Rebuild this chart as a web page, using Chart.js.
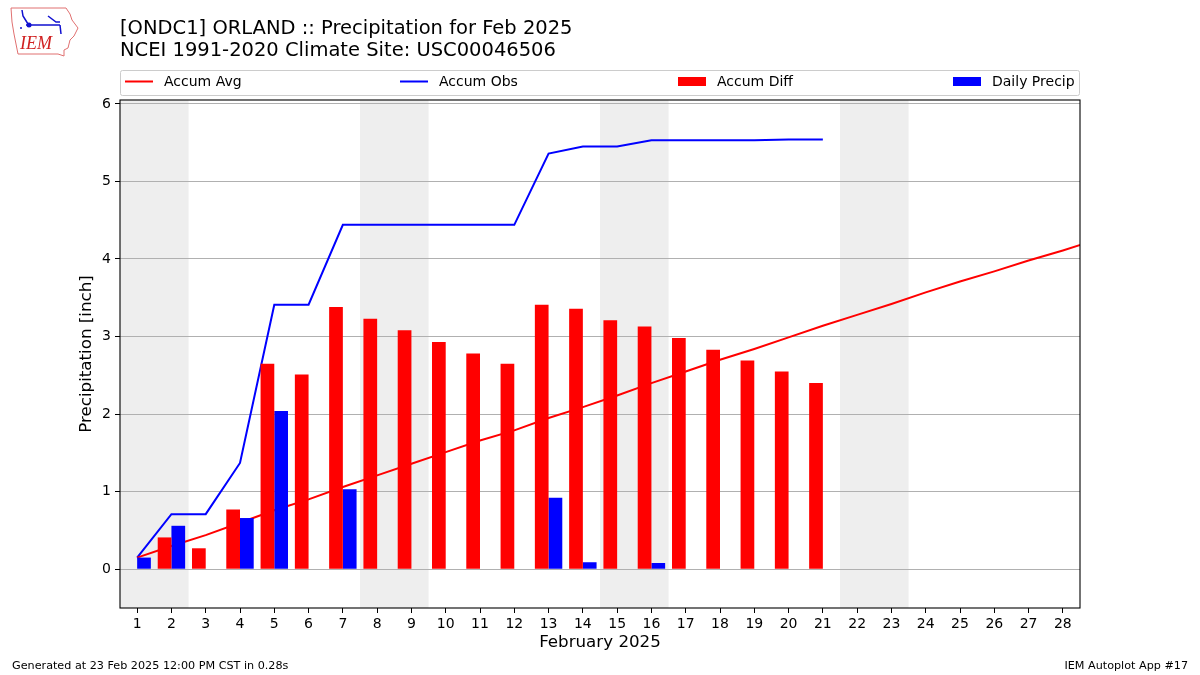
<!DOCTYPE html>
<html>
<head>
<meta charset="utf-8">
<script src="https://cdn.jsdelivr.net/npm/chart.js@4"></script>
<style>
  body { margin: 0; background: #fff; }
  #wrap { position: relative; width: 1200px; height: 675px; }
  #logo { position: absolute; left: 8px; top: 4px; }
</style>
</head>
<body>
<div id="wrap">
  <canvas id="line-chart" width="1200" height="675"></canvas>
  <svg id="logo" width="72" height="56" viewBox="0 0 72 56">
    <path d="M3 4 L58 4 L62 10 L64 16 L70 24 L66 32 L62 36 L60 44 L56 46 L56 52 L50 50 L10 50 L8 40 L6 30 L4 18 Z" fill="none" stroke="#e07070" stroke-width="1"/>
    <path d="M18 21 L52 21 M40 12 L48 18 L52 18 M52 21 L53 30 M14 6 L15 12 L20 20" fill="none" stroke="#1010d0" stroke-width="1.5"/>
    <circle cx="21" cy="21" r="2.5" fill="#1010d0"/>
    <circle cx="13" cy="24" r="1" fill="#1010d0"/>
    <text x="12" y="45" font-family="Liberation Serif" font-style="italic" font-size="18" fill="#d02020">IEM</text>
  </svg>
</div>
<script>
var days = [1,2,3,4,5,6,7,8,9,10,11,12,13,14,15,16,17,18,19,20,21,22,23,24,25,26,27,28];
var avgDays = [1,2,3,4,5,6,7,8,9,10,11,12,13,14,15,16,17,18,19,20,21,22,23,24,25,26,27,28,29];
var accumAvg = [0.15,0.30,0.44,0.60,0.76,0.90,1.06,1.21,1.36,1.51,1.66,1.79,1.95,2.09,2.24,2.40,2.55,2.70,2.84,2.99,3.14,3.28,3.42,3.57,3.71,3.84,3.98,4.11,4.25];
var accumObs = [0.15,0.71,0.71,1.37,3.41,3.41,4.44,4.44,4.44,4.44,4.44,4.44,5.36,5.45,5.45,5.53,5.53,5.53,5.53,5.54,5.54];
var accumDiff = [0,0.41,0.27,0.77,2.65,2.51,3.38,3.23,3.08,2.93,2.78,2.65,3.41,3.36,3.21,3.13,2.98,2.83,2.69,2.55,2.40];
var dailyPrecip = [0.15,0.56,0,0.66,2.04,0,1.03,0,0,0,0,0,0.92,0.09,0,0.08,0,0,0,0,0];
var weekendStarts = [1,8,15,22];
var yTicks = [0,1,2,3,4,5,6];

var FONT = "'DejaVu Sans', sans-serif";

function pts(xs, ys) {
  var out = [];
  for (var i = 0; i < ys.length; i++) out.push({x: xs[i], y: ys[i]});
  return out;
}

var shadePlugin = {
  id: 'shade',
  beforeDraw: function(chart) {
    var ctx = chart.ctx, a = chart.chartArea, x = chart.scales.x;
    ctx.save();
    ctx.fillStyle = '#ffffff';
    ctx.fillRect(0, 0, chart.width, chart.height);
    ctx.fillStyle = '#eeeeee';
    weekendStarts.forEach(function(d) {
      var x0 = Math.max(x.getPixelForValue(d - 0.5), a.left);
      var x1 = Math.min(x.getPixelForValue(d + 1.5), a.right);
      ctx.fillRect(x0, a.top, x1 - x0, a.bottom - a.top);
    });
    ctx.restore();
  },
  afterDraw: function(chart) {
    var ctx = chart.ctx, a = chart.chartArea;
    ctx.save();
    // frame
    ctx.strokeStyle = '#000';
    ctx.lineWidth = 1.1;
    ctx.strokeRect(a.left, a.top, a.right - a.left, a.bottom - a.top);
    // titles
    ctx.fillStyle = '#000';
    ctx.textBaseline = 'middle';
    ctx.textAlign = 'left';
    ctx.font = '19.5px ' + FONT;
    ctx.fillText('[ONDC1] ORLAND :: Precipitation for Feb 2025', 120, 29);
    ctx.fillText('NCEI 1991-2020 Climate Site: USC00046506', 120, 51);
    // axis titles
    ctx.font = '16.7px ' + FONT;
    ctx.textAlign = 'center';
    ctx.fillText('February 2025', (a.left + a.right) / 2, 643);
    ctx.save();
    ctx.translate(87, (a.top + a.bottom) / 2);
    ctx.rotate(-Math.PI / 2);
    ctx.fillText('Precipitation [inch]', 0, 0);
    ctx.restore();
    // footer
    ctx.font = '11.2px ' + FONT;
    ctx.textAlign = 'left';
    ctx.fillText('Generated at 23 Feb 2025 12:00 PM CST in 0.28s', 12, 666);
    ctx.textAlign = 'right';
    ctx.fillText('IEM Autoplot App #17', 1188, 666);
    // legend
    ctx.fillStyle = 'rgba(255,255,255,0.8)';
    ctx.strokeStyle = '#cccccc';
    ctx.lineWidth = 1;
    ctx.beginPath();
    ctx.roundRect(120.5, 70.5, 959, 25, 2);
    ctx.fill();
    ctx.stroke();
    var slots = [125, 400, 678, 953];
    ctx.font = '14px ' + FONT;
    ctx.textAlign = 'left';
    chart.data.datasets.forEach(function(ds, k) {
      var x0 = slots[k];
      if (ds.type === 'line') {
        ctx.strokeStyle = ds.borderColor;
        ctx.lineWidth = 2;
        ctx.beginPath();
        ctx.moveTo(x0, 81.5);
        ctx.lineTo(x0 + 28, 81.5);
        ctx.stroke();
      } else {
        ctx.fillStyle = ds.backgroundColor;
        ctx.fillRect(x0, 77, 28, 9);
      }
      ctx.fillStyle = '#000';
      ctx.fillText(ds.label, x0 + 39, 82);
    });
    ctx.restore();
  }
};

new Chart(document.getElementById("line-chart"), {
  type: 'bar',
  data: {
    datasets: [
      { type: 'line', label: 'Accum Avg', data: pts(avgDays, accumAvg), borderColor: '#ff0000', borderWidth: 2, pointRadius: 0, fill: false, order: 2 },
      { type: 'line', label: 'Accum Obs', data: pts(days, accumObs), borderColor: '#0000ff', borderWidth: 2, pointRadius: 0, fill: false, order: 2 },
      { type: 'bar', label: 'Accum Diff', data: pts(days, accumDiff), backgroundColor: '#ff0000', categoryPercentage: 0.8, barPercentage: 1.0, borderWidth: 0, order: 1 },
      { type: 'bar', label: 'Daily Precip', data: pts(days, dailyPrecip), backgroundColor: '#0000ff', categoryPercentage: 0.8, barPercentage: 1.0, borderWidth: 0, order: 1 }
    ]
  },
  options: {
    responsive: false,
    animation: false,
    devicePixelRatio: 1,
    layout: { padding: { top: 100, right: 120, left: 0, bottom: 0 } },
    plugins: { legend: { display: false }, tooltip: { enabled: false }, title: { display: false } },
    scales: {
      x: {
        type: 'linear',
        min: 0.5,
        max: 28.5,
        offset: false,
        afterBuildTicks: function(s) { s.ticks = days.map(function(d) { return {value: d}; }); },
        afterFit: function(s) { s.height = 67; },
        grid: { offset: false, drawOnChartArea: false, drawTicks: true, tickLength: 5, tickColor: '#000', color: '#000' },
        border: { display: false },
        ticks: { color: '#000', font: { family: FONT, size: 14 }, padding: 3, maxRotation: 0, autoSkip: false }
      },
      y: {
        min: -0.5,
        max: 6.05,
        afterBuildTicks: function(s) { s.ticks = yTicks.map(function(v) { return {value: v}; }); },
        afterFit: function(s) { s.width = 120; },
        grid: { color: '#b0b0b0', lineWidth: 1, tickLength: 5, tickColor: '#000' },
        border: { display: false },
        ticks: { color: '#000', font: { family: FONT, size: 14 }, padding: 4 }
      }
    }
  },
  plugins: [shadePlugin]
});
</script>
</body>
</html>
